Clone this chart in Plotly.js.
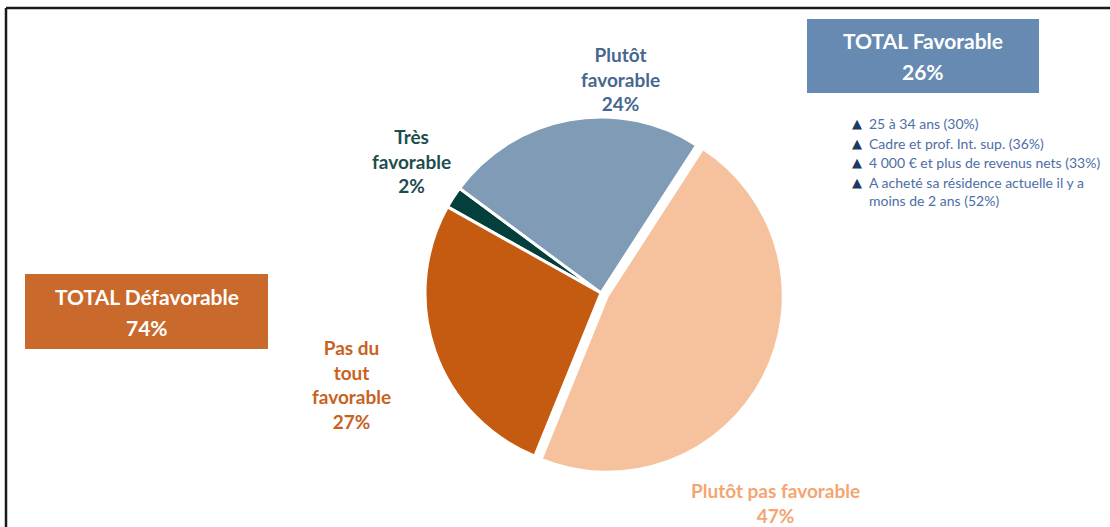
<!DOCTYPE html>
<html>
<head>
<meta charset="utf-8">
<script src="https://cdn.plot.ly/plotly-3.0.1.min.js"></script>
<style>
  html, body { margin: 0; padding: 0; background: #fff; }
  #chart { width: 1110px; height: 527px; }
</style>
</head>
<body>
<div id="chart"></div>
<script>
// slices, clockwise from "Très favorable"
const labels = ['Très favorable', 'Plutôt favorable', 'Plutôt pas favorable', 'Pas du tout favorable'];
const values = [2, 24, 47, 27];
const wrappedLabels = ['Très<br>favorable', 'Plutôt<br>favorable', 'Plutôt pas favorable', 'Pas du<br>tout<br>favorable'];
const sliceColors = ['#053f3b', '#7f9bb6', '#f6c29e', '#c55a11'];
const labelColors = ['#1e4d4d', '#46678f', '#f4a571', '#c8621e'];

const totalNames = ['TOTAL Favorable', 'TOTAL Défavorable'];
const totalValues = [26, 74];
const totalColors = ['#678ab2', '#c9692b'];

const highlights = [
    '25 à 34 ans (30%)',
    'Cadre et prof. Int. sup. (36%)',
    '4 000 € et plus de revenus nets (33%)',
    'A acheté sa résidence actuelle il y a<br>moins de 2 ans (52%)'
];

const W = 1110, H = 527;
const px = x => x / W;
const py = y => 1 - y / H;

// pie box: centre (601, 293), radius 175, pulled slice adds 4%
const cx = 601, cy = 293, half = 176 * 1.04;

const data = [{
    type: 'pie',
    labels: labels,
    values: values,
    sort: false,
    direction: 'clockwise',
    rotation: 299.3,
    pull: [0, 0, 0.04, 0],
    textinfo: 'none',
    hoverinfo: 'label+percent',
    marker: { colors: sliceColors, line: { color: '#ffffff', width: 3 } },
    domain: { x: [px(cx - half), px(cx + half)], y: [py(cy + half), py(cy - half)] }
}];

const labelFont = { family: 'Lato, "Open Sans", sans-serif', size: 19, weight: 'bold' };
const labelPos = [[411, 161], [620, 79], [775, 503], [351, 384]];

const annotations = [];
wrappedLabels.forEach((t, i) => {
    annotations.push({
        xref: 'paper', yref: 'paper',
        x: px(labelPos[i][0]), y: py(labelPos[i][1]),
        xanchor: 'center', yanchor: 'middle',
        text: '<b>' + t + '<br>' + values[i] + '%</b>',
        showarrow: false,
        font: Object.assign({}, labelFont, { color: labelColors[i] })
    });
});

// total boxes
const boxes = [[807, 19, 1039, 93], [25, 274, 268, 349]];
const shapes = [];
boxes.forEach((b, i) => {
    shapes.push({
        type: 'rect', xref: 'paper', yref: 'paper',
        x0: px(b[0]), x1: px(b[2]), y0: py(b[3]), y1: py(b[1]),
        fillcolor: totalColors[i], line: { width: 0 }
    });
    const mid = (b[0] + b[2]) / 2;
    const boxFont = { family: 'Lato, "Open Sans", sans-serif', size: 21, color: '#ffffff' };
    annotations.push({
        xref: 'paper', yref: 'paper', x: px(mid), y: py(b[1] + 22),
        xanchor: 'center', yanchor: 'middle', showarrow: false,
        text: '<b>' + totalNames[i] + '</b>', font: boxFont
    });
    annotations.push({
        xref: 'paper', yref: 'paper', x: px(mid), y: py(b[1] + 53),
        xanchor: 'center', yanchor: 'middle', showarrow: false,
        text: '<b>' + totalValues[i] + '%</b>', font: boxFont
    });
});

// highlight list
const listTop = [123, 143, 162, 182];
highlights.forEach((t, i) => {
    annotations.push({
        xref: 'paper', yref: 'paper', x: px(856.5), y: py(listTop[i]),
        xanchor: 'center', yanchor: 'middle', showarrow: false,
        text: '▲', font: { family: 'DejaVu Sans', size: 13, color: '#1f3864' }
    });
    annotations.push({
        xref: 'paper', yref: 'paper', x: px(867), y: py(listTop[i] - 10),
        xanchor: 'left', yanchor: 'top', align: 'left', showarrow: false,
        text: t, font: { family: 'Lato, "Open Sans", sans-serif', size: 14, color: '#4e6ea6' }
    });
});

// frame lines (top and left)
shapes.push({ type: 'line', xref: 'paper', yref: 'paper', x0: px(6), x1: 1, y0: py(8), y1: py(8), line: { color: '#1a1a1a', width: 2.5 } });
shapes.push({ type: 'line', xref: 'paper', yref: 'paper', x0: px(6), x1: px(6), y0: py(8), y1: 0, line: { color: '#1a1a1a', width: 2.5 } });

const layout = {
    width: W, height: H,
    margin: { l: 0, r: 0, t: 0, b: 0 },
    showlegend: false,
    paper_bgcolor: '#ffffff',
    annotations: annotations,
    shapes: shapes
};

Plotly.newPlot('chart', data, layout, { displayModeBar: false, staticPlot: true });
</script>
</body>
</html>
